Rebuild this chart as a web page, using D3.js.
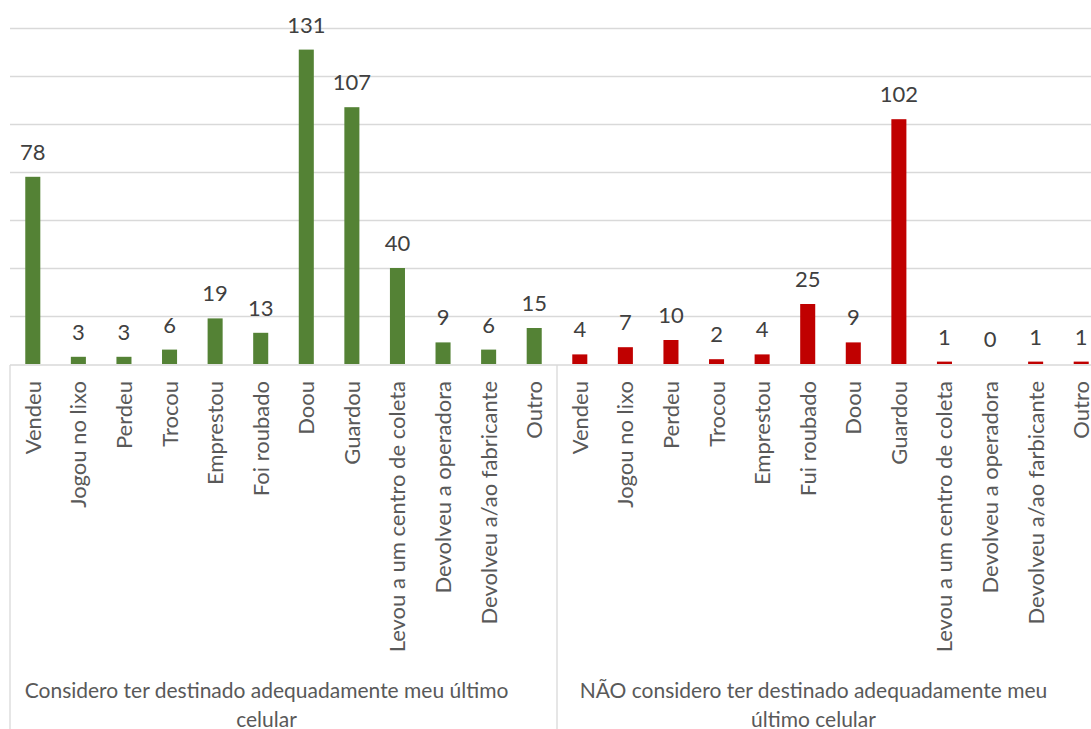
<!DOCTYPE html>
<html>
<head>
<meta charset="utf-8">
<script src="https://cdn.jsdelivr.net/npm/d3@7"></script>
<style>
  html, body { margin: 0; padding: 0; background: #fff; }
  svg { display: block; font-family: Lato, 'Open Sans', sans-serif; }
</style>
</head>
<body>
<svg></svg>
<script>
const w = 1091;
const h = 729;

const categoriesA = ['Vendeu', 'Jogou no lixo', 'Perdeu', 'Trocou', 'Emprestou', 'Foi roubado',
  'Doou', 'Guardou', 'Levou a um centro de coleta', 'Devolveu a operadora',
  'Devolveu a/ao fabricante', 'Outro'];
const categoriesB = ['Vendeu', 'Jogou no lixo', 'Perdeu', 'Trocou', 'Emprestou', 'Fui roubado',
  'Doou', 'Guardou', 'Levou a um centro de coleta', 'Devolveu a operadora',
  'Devolveu a/ao farbicante', 'Outro'];
const valuesA = [78, 3, 3, 6, 19, 13, 131, 107, 40, 9, 6, 15];
const valuesB = [4, 7, 10, 2, 4, 25, 9, 102, 1, 0, 1, 1];
const groupLabels = [
  ['Considero ter destinado adequadamente meu último', 'celular'],
  ['NÃO considero ter destinado adequadamente meu', 'último celular']
];
const yTicks = [0, 20, 40, 60, 80, 100, 120, 140];

const colors = ['#548235', '#C00000'];

const left = 10;
const right = 1104;
const baseY = 364;

const svg = d3.select('svg').attr('width', w).attr('height', h);

// one flat row per bar
const rows = [];
categoriesA.forEach((c, i) => rows.push({ key: 'A' + i, cat: c, v: valuesA[i], g: 0 }));
categoriesB.forEach((c, i) => rows.push({ key: 'B' + i, cat: c, v: valuesB[i], g: 1 }));

const x = d3.scaleBand().domain(rows.map((d) => d.key)).range([left, right]);
const y = d3.scaleLinear().domain([0, 140]).range([baseY, 28]);

const barW = x.bandwidth() * 0.33;

// gridlines
svg.append('g')
  .selectAll('line')
  .data(yTicks.slice(1))
  .enter()
  .append('line')
  .attr('x1', left)
  .attr('x2', w)
  .attr('y1', (d) => Math.round(y(d)) + 0.5)
  .attr('y2', (d) => Math.round(y(d)) + 0.5)
  .attr('stroke', '#d9d9d9')
  .attr('stroke-width', 1.3);

// bars
svg.append('g')
  .selectAll('rect')
  .data(rows)
  .enter()
  .append('rect')
  .attr('x', (d) => x(d.key) + (x.bandwidth() - barW) / 2)
  .attr('y', (d) => y(d.v))
  .attr('width', barW)
  .attr('height', (d) => baseY - y(d.v))
  .attr('fill', (d) => colors[d.g]);

// axis line + group separators
const axis = svg.append('g').attr('stroke', '#d9d9d9').attr('stroke-width', 1.3);
axis.append('line').attr('x1', left).attr('x2', w).attr('y1', baseY + 1).attr('y2', baseY + 1);
[left, x('B0')].forEach((xx) => {
  axis.append('line')
    .attr('x1', xx).attr('x2', xx)
    .attr('y1', baseY + 1).attr('y2', h);
});

// data labels
svg.append('g')
  .selectAll('text')
  .data(rows)
  .enter()
  .append('text')
  .attr('x', (d) => x(d.key) + x.bandwidth() / 2)
  .attr('y', (d) => y(d.v) - 17)
  .attr('text-anchor', 'middle')
  .attr('font-size', 22)
  .attr('fill', '#404040')
  .text((d) => d.v);

// category labels (rotated)
svg.append('g')
  .selectAll('text')
  .data(rows)
  .enter()
  .append('text')
  .attr('transform', (d) => `translate(${x(d.key) + x.bandwidth() / 2 + 8},381) rotate(-90)`)
  .attr('text-anchor', 'end')
  .attr('font-size', 22)
  .attr('fill', '#595959')
  .text((d) => d.cat);

// group labels
const groupStarts = [x('A0'), x('B0')];
const groupW = x.step() * 12;
groupLabels.forEach((lines, gi) => {
  const t = svg.append('text')
    .attr('text-anchor', 'middle')
    .attr('font-size', 21)
    .attr('fill', '#595959');
  lines.forEach((ln, li) => {
    t.append('tspan')
      .attr('x', groupStarts[gi] + groupW / 2 - 17)
      .attr('y', 698 + li * 29)
      .text(ln);
  });
});
</script>
</body>
</html>
